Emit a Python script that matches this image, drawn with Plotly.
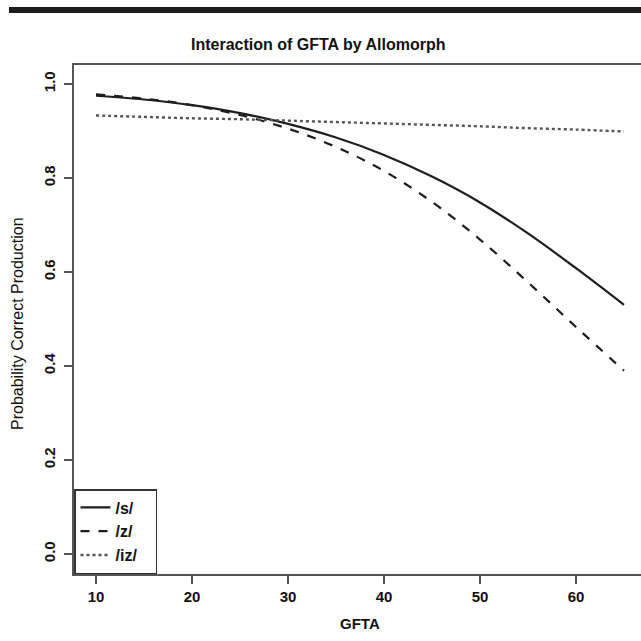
import plotly.graph_objects as go

gfta = [10, 15, 20, 25, 30, 35, 40, 45, 50, 55, 60, 65]
p_s = [0.975, 0.967, 0.955, 0.938, 0.915, 0.886, 0.849, 0.803, 0.748, 0.682, 0.608, 0.530]
p_z = [0.978, 0.969, 0.955, 0.934, 0.905, 0.866, 0.815, 0.749, 0.669, 0.578, 0.483, 0.390]
p_iz = [0.933, 0.930, 0.927, 0.925, 0.922, 0.919, 0.916, 0.913, 0.910, 0.906, 0.903, 0.899]

series = [("/s/", p_s, "solid"), ("/z/", p_z, "dash"), ("/iz/", p_iz, "dot")]
x_ticks = [10, 20, 30, 40, 50, 60]
y_ticks = [0.0, 0.2, 0.4, 0.6, 0.8, 1.0]
y_tick_labels = ["0.0", "0.2", "0.4", "0.6", "0.8", "1.0"]

FONT = "Liberation Sans, Arial, sans-serif"
W, H = 641, 641
L, T, B, R = 74, 65, 67, 0
PW, PH = W - L - R, H - T - B


def px_x(x):
    return (x - L) / PW


def px_y(y):
    return (H - B - y) / PH


fig = go.Figure()
for name, vals, dash in series:
    fig.add_trace(go.Scatter(
        x=gfta, y=vals, mode="lines", name=name + "\u00a0\u00a0\u00a0",
        line=dict(color="#1e1e1e" if dash != "dot" else "#555555",
                  width=2.2 if dash != "dot" else 2.4, dash=dash, shape="spline"),
    ))

fig.update_layout(
    width=W, height=H,
    margin=dict(l=L, r=R, t=T, b=B, pad=0),
    paper_bgcolor="white", plot_bgcolor="white",
    font=dict(family=FONT, color="#111111"),
    showlegend=True,
    legend=dict(
        x=0, y=0, xanchor="left", yanchor="bottom",
        bgcolor="white", bordercolor="#333333", borderwidth=1.5,
        font=dict(family=FONT, size=16, weight="bold", color="#111111"),
        tracegroupgap=0, itemwidth=30,
    ),
    xaxis=dict(
        range=[7.71, 66.77], tickvals=x_ticks,
        ticks="outside", ticklen=8, tickwidth=1.5, tickcolor="#555555",
        showline=True, linecolor="#555555", linewidth=1.5, mirror=True,
        showgrid=False, zeroline=False,
        tickfont=dict(family=FONT, size=15, weight="bold", color="#111111"),
    ),
    yaxis=dict(
        range=[-0.0426, 1.0404], tickvals=y_ticks, ticktext=y_tick_labels,
        ticks="outside", ticklen=8, tickwidth=1.5, tickcolor="#555555",
        showline=True, linecolor="#555555", linewidth=1.5, mirror=False,
        showgrid=False, zeroline=False, tickangle=-90, ticklabelstandoff=3,
        tickfont=dict(family=FONT, size=15, weight="bold", color="#111111"),
    ),
    annotations=[
        dict(text="<b>Interaction of GFTA by Allomorph</b>", x=px_x(318), y=px_y(44),
             xref="paper", yref="paper", xanchor="center", yanchor="middle",
             showarrow=False, font=dict(family=FONT, size=16, color="#111111")),
        dict(text="GFTA", x=px_x(360), y=px_y(623),
             xref="paper", yref="paper", xanchor="center", yanchor="middle",
             showarrow=False, font=dict(family=FONT, size=15, weight="bold", color="#111111")),
        dict(text="Probability Correct Production", x=px_x(17),
             y=px_y(324), textangle=-90,
             xref="paper", yref="paper", xanchor="center", yanchor="middle",
             showarrow=False, font=dict(family=FONT, size=16, color="#111111")),
    ],
    shapes=[
        dict(type="rect", xref="paper", yref="paper",
             x0=px_x(9), x1=1.0, y0=px_y(13), y1=px_y(7),
             fillcolor="#1c1c1c", line=dict(width=0)),
    ],
)

fig.write_html("out.html")
